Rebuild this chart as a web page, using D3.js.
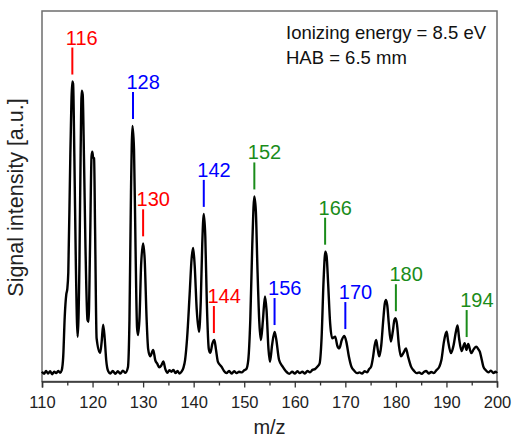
<!DOCTYPE html>
<html>
<head>
<meta charset="utf-8">
<script src="https://cdnjs.cloudflare.com/ajax/libs/d3/7.8.5/d3.min.js"></script>
<style>
    body { margin: 0; background: #fff; }
    svg { display: block; font-family: "Liberation Sans", Arial, Helvetica, sans-serif; }
</style>
</head>
<body>
<div id="chart"></div>
<script>
// Spectrum: [m/z, signal] (signal in % of the frame height above baseline)
var spectrum = [
    [110.0, 0.8], [110.4, 0.2], [110.8, 1.0], [111.2, 0.3], [111.6, 0.9], [112.0, 0.1], [112.4, 0.8],
    [112.8, 0.4], [113.2, 1.0], [113.6, 0.5], [113.9, 1.2], [114.2, 5], [114.5, 16], [114.8, 22],
    [115.0, 23.5], [115.2, 28], [115.6, 60], [116.0, 80.6], [116.15, 80], [116.4, 60], [116.7, 30],
    [117.05, 10.4], [117.4, 30], [117.65, 62], [117.85, 78.1], [118.05, 77], [118.3, 60], [118.6, 35],
    [119.0, 15], [119.2, 14.5], [119.5, 35], [119.8, 60], [119.95, 61.3], [120.1, 59.8], [120.3, 59.5],
    [120.5, 40], [120.8, 10], [121.5, 6], [121.8, 9], [122.1, 13.7], [122.4, 10], [122.7, 4],
    [123.1, 0.9], [123.5, 0.3], [124.0, 1.0], [124.5, 0.2], [125.0, 0.9], [125.5, 0.3], [126.0, 1.1],
    [126.5, 0.5], [127.0, 2.0], [127.3, 15], [127.6, 50], [127.9, 68.4], [128.2, 62], [128.5, 35],
    [128.8, 13], [129.0, 10.9], [129.3, 16], [129.6, 30], [130.0, 36.1], [130.3, 32], [130.7, 15],
    [131.0, 7], [131.4, 5], [132.0, 6.8], [132.4, 4], [132.8, 3], [133.2, 2], [133.6, 2.5],
    [134.0, 3.6], [134.4, 1.5], [134.8, 0.5], [135.2, 1.2], [135.6, 0.8], [136.0, 1.3], [136.4, 0.4],
    [136.8, 1.0], [137.2, 0.3], [137.6, 0.8], [138.0, 2], [138.3, 4], [138.7, 10], [139.2, 22],
    [139.6, 32], [139.9, 34.8], [140.2, 30], [140.6, 18], [141.05, 11.8], [141.4, 20], [141.7, 36],
    [142.0, 44.2], [142.3, 38], [142.6, 20], [143.0, 7], [143.3, 6], [143.7, 8.5], [144.1, 9.5],
    [144.4, 7], [144.8, 3.5], [145.5, 2.2], [146.0, 1], [146.5, 0.4], [147.0, 1.0], [147.5, 0.3],
    [148.0, 0.9], [148.5, 0.4], [149.0, 0.8], [149.5, 0.6], [150.0, 1.2], [150.4, 1.5], [150.8, 4],
    [151.2, 15], [151.6, 36], [152.0, 49], [152.3, 45], [152.6, 30], [153.0, 14], [153.3, 9.5],
    [153.7, 15], [154.1, 21.5], [154.4, 18], [154.8, 7], [155.1, 3.5], [155.5, 8], [156.0, 11.7],
    [156.3, 10], [156.9, 4], [157.6, 2.2], [158.2, 1.0], [158.9, 0.2], [159.5, 0.8], [160.0, 0.3],
    [160.5, 0.9], [161.0, 0.4], [161.5, 0.8], [162.0, 0.3], [162.5, 1.0], [163.0, 0.6], [163.5, 1.3],
    [164.0, 1.5], [164.5, 2.2], [164.9, 3], [165.3, 10], [165.7, 26], [166.05, 33.8], [166.3, 32.5],
    [166.6, 25], [167.0, 14], [167.4, 10], [168.0, 10.4], [168.4, 8], [168.8, 7.2], [169.3, 9.5],
    [169.8, 10.6], [170.2, 9], [170.7, 5], [171.2, 2.2], [171.8, 1.0], [172.3, 0.4], [172.8, 0.6],
    [173.3, 0.3], [173.8, 0.9], [174.3, 0.6], [174.7, 1.5], [175.1, 2.2], [175.5, 5], [175.8, 8],
    [176.1, 9.5], [176.4, 7], [176.7, 5], [177.1, 8], [177.5, 15], [177.8, 19.5], [178.05, 20.5],
    [178.3, 19], [178.6, 14], [179.0, 9.1], [179.4, 12], [179.7, 15], [179.9, 15.5], [180.2, 14],
    [180.6, 8], [181.0, 5], [181.5, 6], [182.0, 7.2], [182.4, 5], [183.0, 2.2], [183.6, 1.0],
    [184.1, 0.4], [184.6, 0.6], [185.1, 0.2], [185.6, 0.8], [186.0, 1.0], [186.5, 0.3], [187.0, 0.7],
    [187.5, 0.4], [188.0, 1.2], [188.6, 2.2], [189.0, 4], [189.5, 9], [189.8, 11], [190.05, 11.8],
    [190.3, 9.5], [190.9, 5.9], [191.4, 8], [191.9, 12], [192.2, 13.5], [192.5, 10], [193.0, 6.5],
    [193.6, 8.6], [193.95, 6.8], [194.3, 8.4], [194.9, 5.9], [195.4, 7], [195.9, 7.7], [196.3, 7],
    [196.6, 6.3], [197.0, 4], [197.3, 2.2], [197.8, 1.2], [198.3, 0.6], [198.8, 1.1], [199.3, 0.4],
    [199.7, 0.8], [200.0, 0.4]
];

// Peak labels
var peakMz    = [116, 128, 130, 142, 144, 152, 156, 166, 170, 180, 194];
var peakGroup = ['r', 'b', 'r', 'b', 'r', 'g', 'b', 'g', 'b', 'g', 'g'];

var majorTicks = [110, 120, 130, 140, 150, 160, 170, 180, 190, 200];
var minorTicks = [115, 125, 135, 145, 155, 165, 175, 185, 195];

var infoLines = ['Ionizing energy = 8.5 eV', 'HAB = 6.5 mm'];

var groupColor = { r: '#ff0000', b: '#0000ff', g: '#1a8c1a' };

var width = 512,
    height = 438,
    plotLeft = 42,
    plotRight = 497,
    plotTop = 11,
    plotBottom = 381.5;

var svg = d3.select('#chart').append('svg')
    .attr('width', width)
    .attr('height', height);

var x = d3.scaleLinear().domain([110, 200]).range([plotLeft, plotRight]);
var y = d3.scaleLinear().domain([-1.9, 100]).range([plotBottom, plotTop]);

// frame
svg.append('rect')
    .attr('x', plotLeft)
    .attr('y', plotTop)
    .attr('width', plotRight - plotLeft)
    .attr('height', plotBottom - plotTop)
    .attr('fill', 'none')
    .attr('stroke', '#6e6e6e')
    .attr('stroke-width', 1.5);

// spectrum trace
var line = d3.line()
    .x(function (d) { return x(d[0]); })
    .y(function (d) { return y(d[1]); })
    .curve(d3.curveMonotoneX);

svg.append('path')
    .datum(spectrum)
    .attr('d', line)
    .attr('fill', 'none')
    .attr('stroke', '#000')
    .attr('stroke-width', 2.4)
    .attr('stroke-linejoin', 'round');

// x axis, major and minor ticks
var xAxis = svg.append('g')
    .attr('transform', 'translate(0,' + plotBottom + ')')
    .call(d3.axisBottom(x).tickValues(majorTicks).tickSize(6).tickPadding(8.5).tickFormat(d3.format('d')));

xAxis.select('.domain').attr('stroke', '#333').attr('stroke-width', 1.5);
xAxis.selectAll('.tick line').attr('stroke', '#333').attr('stroke-width', 1.3);
xAxis.selectAll('.tick text')
    .attr('fill', '#222')
    .style('font-size', '16.5px')
    .style('font-family', '"Liberation Sans", Arial, sans-serif');

var xMinor = svg.append('g')
    .attr('transform', 'translate(0,' + plotBottom + ')')
    .call(d3.axisBottom(x).tickValues(minorTicks).tickSize(4).tickFormat(''));

xMinor.select('.domain').remove();
xMinor.selectAll('.tick line').attr('stroke', '#333').attr('stroke-width', 1.3);

// axis titles
svg.append('text')
    .attr('x', (plotLeft + plotRight) / 2)
    .attr('y', 434)
    .attr('text-anchor', 'middle')
    .attr('fill', '#222')
    .style('font-size', '20px')
    .text('m/z');

svg.append('text')
    .attr('transform', 'translate(23,' + 197.5 + ') rotate(-90)')
    .attr('text-anchor', 'middle')
    .attr('fill', '#222')
    .style('font-size', '21.5px')
    .text('Signal intensity [a.u.]');

// conditions text
svg.selectAll('.info')
    .data(infoLines)
    .enter()
    .append('text')
    .attr('class', 'info')
    .attr('x', 286)
    .attr('y', function (d, i) { return 39 + i * 25; })
    .attr('fill', '#111')
    .style('font-size', '18.5px')
    .text(function (d) { return d; });

// highest point of the trace near a given m/z
function peakTop(mz) {
    var near = spectrum.filter(function (d) { return Math.abs(d[0] - mz) <= 0.4; });
    return d3.max(near, function (d) { return d[1]; });
}

var marks = svg.selectAll('.mark')
    .data(peakMz)
    .enter()
    .append('g')
    .attr('class', 'mark')
    .attr('transform', function (d) {
        return 'translate(' + x(d) + ',' + (y(peakTop(d)) - 7) + ')';
    });

marks.append('line')
    .attr('x1', 0)
    .attr('x2', 0)
    .attr('y1', -27)
    .attr('y2', 0)
    .attr('stroke', function (d, i) { return groupColor[peakGroup[i]]; })
    .attr('stroke-width', 2);

marks.append('text')
    .attr('x', -6.5)
    .attr('y', -30)
    .attr('fill', function (d, i) { return groupColor[peakGroup[i]]; })
    .style('font-size', '20px')
    .text(function (d) { return d; });
</script>
</body>
</html>
